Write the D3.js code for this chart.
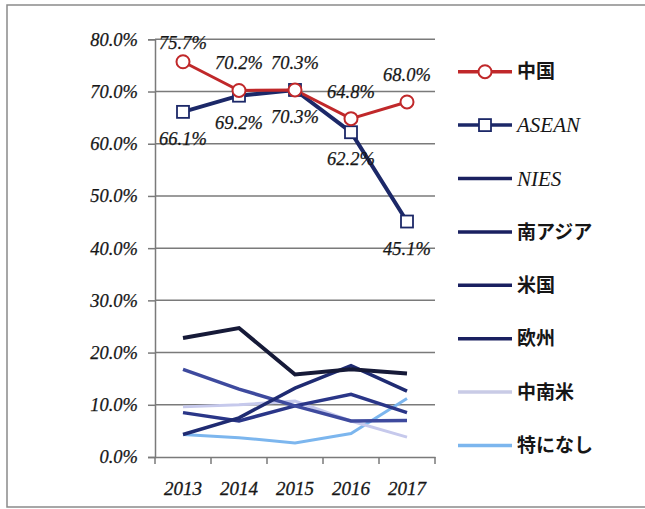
<!DOCTYPE html>
<html><head><meta charset="utf-8">
<script src="https://cdn.jsdelivr.net/npm/d3@7"></script>
<style>body{margin:0;background:#fff}svg{display:block}</style>
</head><body>
<svg id="c" width="645" height="509"></svg>
<script>
const years = ["2013","2014","2015","2016","2017"];
const yTicks = [0,10,20,30,40,50,60,70,80];
const seriesNames = ["中国","ASEAN","NIES","南アジア","米国","欧州","中南米","特になし"];
const china   = [75.7,70.2,70.3,64.8,68.0];
const asean   = [66.1,69.2,70.3,62.2,45.1];
const nies    = [22.8,24.7,15.8,16.8,16.0];
const southAsia = [4.3,7.5,13.2,17.5,12.6];
const usa     = [16.8,13.0,9.8,6.9,7.0];
const europe  = [8.5,6.9,9.8,12.0,8.5];
const latam   = [9.6,10.0,10.7,6.9,3.8];
const none    = [4.3,3.7,2.7,4.5,11.2];

const values = [china,asean,nies,southAsia,usa,europe,latam,none];
const colors = ["#c0282a","#1c2868","#161a38","#1f2b72","#3e4a9e","#2a3688","#c6c9ec","#7cb6ee"];
const legendColors = ["#c0282a","#1c2868","#1a2060","#1a2060","#1a2060","#1a2060","#c9cbe6","#7cb6ee"];
const widths = [3,4,4,3.5,3.5,3.5,3,3];

const svg = d3.select("#c");
svg.append("rect").attr("x",7).attr("y",5).attr("width",642).attr("height",502)
  .attr("fill","#fff").attr("stroke","#8a8a8a").attr("stroke-width",1.5);

const L=155,R=435,T=39.3,B=457;
const x = d3.scaleBand().domain(years).range([L,R]);
const y = d3.scaleLinear().domain([0,80]).range([B,T]);
const serif = "'Liberation Serif','Times New Roman',serif";
const txt = "#161616";

// gridlines
svg.append("g").selectAll("line").data(yTicks.filter(d=>d>0)).join("line")
  .attr("x1",L).attr("x2",R).attr("y1",d=>y(d)).attr("y2",d=>y(d))
  .attr("stroke","#7a7a7a").attr("stroke-width",1.5);

// y axis
const ya = svg.append("g").attr("transform",`translate(${L},0)`)
  .call(d3.axisLeft(y).tickValues(yTicks).tickSize(7).tickPadding(10).tickFormat(d=>d.toFixed(1)+"%"));
ya.select(".domain").attr("stroke","#7a7a7a").attr("stroke-width",1.5);
ya.selectAll(".tick line").attr("stroke","#7a7a7a").attr("stroke-width",1.5);
ya.selectAll("text").attr("font-family",serif).attr("font-style","italic").attr("font-size",18.5)
  .attr("fill",txt).attr("stroke",txt).attr("stroke-width",0.25);

// x axis
const xa = svg.append("g").attr("transform",`translate(0,${B})`)
  .call(d3.axisBottom(x).tickSize(0).tickPadding(25));
xa.select(".domain").attr("stroke","#7a7a7a").attr("stroke-width",1.5);
xa.selectAll("text").attr("font-family",serif).attr("font-style","italic").attr("font-size",19)
  .attr("fill",txt).attr("stroke",txt).attr("stroke-width",0.3);
// band boundary ticks
svg.append("g").selectAll("line").data(d3.range(years.length+1)).join("line")
  .attr("x1",i=>L+i*x.step()).attr("x2",i=>L+i*x.step()).attr("y1",B).attr("y2",B+7)
  .attr("stroke","#7a7a7a").attr("stroke-width",1.5);

const line = d3.line().x((d,i)=>x(years[i])+x.bandwidth()/2).y(d=>y(d));
for (let k=values.length-1;k>=0;k--){
  svg.append("path").attr("d",line(values[k])).attr("fill","none")
    .attr("stroke",colors[k]).attr("stroke-width",widths[k]).attr("stroke-linejoin","miter");
}
const cx = i=>x(years[i])+x.bandwidth()/2;
// ASEAN markers
svg.append("g").selectAll("rect").data(asean).join("rect")
  .attr("x",(d,i)=>cx(i)-6).attr("y",d=>y(d)-6).attr("width",12).attr("height",12)
  .attr("fill","#fff").attr("stroke",colors[1]).attr("stroke-width",1.8);
// China markers
svg.append("g").selectAll("circle").data(china).join("circle")
  .attr("cx",(d,i)=>cx(i)).attr("cy",d=>y(d)).attr("r",6.5)
  .attr("fill","#fff").attr("stroke",colors[0]).attr("stroke-width",2);

// data labels
const lab = (arr,off)=>svg.append("g").selectAll("text").data(arr).join("text")
  .attr("x",(d,i)=>cx(i)).attr("y",d=>Math.max(y(d)+off, T+10))
  .attr("text-anchor","middle").attr("font-family",serif).attr("font-style","italic")
  .attr("font-size",18.5).attr("fill",txt).attr("stroke",txt).attr("stroke-width",0.25)
  .text(d=>d.toFixed(1)+"%");
lab(china,-21);
lab(asean,33);

// legend
const lg = svg.append("g");
seriesNames.forEach((n,k)=>{
  const yy = 71.7 + k*53.4;
  lg.append("line").attr("x1",458).attr("x2",512).attr("y1",yy).attr("y2",yy)
    .attr("stroke",legendColors[k]).attr("stroke-width",3.5);
  if(k===0) lg.append("circle").attr("cx",485).attr("cy",yy).attr("r",6.5).attr("fill","#fff").attr("stroke",colors[0]).attr("stroke-width",2);
  if(k===1) lg.append("rect").attr("x",479).attr("y",yy-6).attr("width",12).attr("height",12).attr("fill","#fff").attr("stroke",colors[1]).attr("stroke-width",1.8);
  const latin = /^[A-Z]+$/.test(n);
  lg.append("text").attr("x",517).attr("y",yy).attr("dy","0.35em")
    .attr("font-family",latin?serif:"'Noto Sans CJK JP','Noto Sans',sans-serif")
    .attr("font-style",latin?"italic":"normal").attr("font-weight",latin?"normal":"bold")
    .attr("font-size",latin?21:19).attr("fill",txt).text(n);
});
</script>
</body></html>
